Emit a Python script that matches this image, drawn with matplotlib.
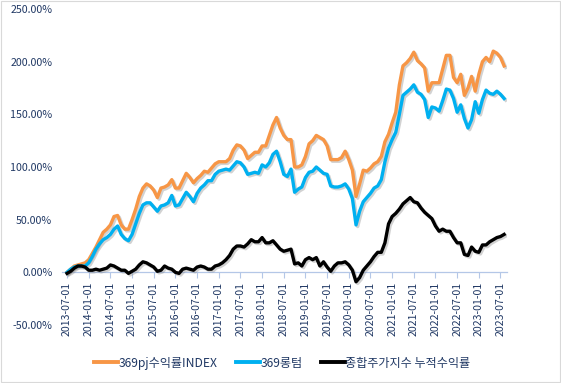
import numpy as np
import matplotlib
matplotlib.use("Agg")
import matplotlib.pyplot as plt
import matplotlib.patheffects as pe
from matplotlib.patches import Rectangle

plt.rcParams['font.family'] = ['Noto Sans CJK KR', 'DejaVu Sans']

# monthly cumulative returns (%), 2013-07 .. 2023-08
index_369pj = [
    0, 3, 6, 7, 8, 9, 12, 18, 24, 31, 38, 41, 45, 53, 54, 45, 41, 41, 50, 60,
    72, 80, 84, 82, 78, 71, 80, 81, 83, 88, 80, 80, 87, 94, 90, 85, 89, 92, 96, 95,
    99, 103, 105, 105, 105, 108, 116, 121, 120, 116, 108, 111, 114, 114, 120, 120, 130, 140, 147, 137,
    130, 126, 126, 100, 100, 102, 110, 122, 125, 130, 128, 126, 120, 107, 107, 107, 109, 115, 107, 97,
    72, 84, 97, 96, 99, 103, 105, 110, 124, 131, 142, 152, 178, 196, 199, 203, 209, 201, 198, 194,
    172, 180, 180, 180, 193, 206, 206, 185, 180, 188, 168, 175, 186, 172, 188, 200, 204, 200, 210, 208,
    204, 196,
]
longterm_369 = [
    0, 3, 5, 6, 6, 6, 9, 15, 22, 27, 31, 33, 36, 41, 44, 36, 32, 30, 36, 46,
    56, 64, 66, 66, 62, 58, 63, 64, 66, 73, 63, 64, 70, 76, 72, 67, 75, 80, 83, 87,
    87, 93, 96, 97, 98, 97, 101, 105, 104, 100, 93, 94, 95, 94, 102, 100, 104, 112, 115, 105,
    93, 91, 98, 76, 79, 81, 90, 95, 96, 100, 97, 94, 93, 82, 81, 81, 82, 84, 79, 70,
    45, 58, 67, 71, 75, 80, 82, 88, 105, 118, 126, 133, 150, 168, 171, 174, 178, 171, 169, 164,
    147, 157, 156, 153, 163, 174, 173, 165, 152, 159, 146, 137, 145, 162, 151, 164, 173, 170, 169, 172,
    169, 165,
]
kospi_cum = [
    -1, 1, 4, 6, 6, 5, 2, 2, 3, 2, 3, 4, 7, 6, 4, 2, 2, -1, 1, 3,
    7, 10, 9, 7, 5, 1, 2, 6, 4, 3, 0, -1, 3, 4, 3, 2, 5, 6, 5, 3,
    3, 6, 7, 9, 12, 16, 22, 25, 25, 24, 27, 31, 29, 29, 33, 28, 28, 30, 26, 22,
    20, 21, 22, 8, 9, 6, 12, 14, 12, 14, 6, 10, 5, 1, 6, 9, 9, 10, 7, 2,
    -9, -5, 2, 6, 10, 15, 19, 19, 28, 46, 53, 56, 60, 65, 68, 71, 67, 66, 61, 57,
    54, 51, 44, 39, 41, 39, 39, 33, 28, 28, 17, 16, 24, 20, 19, 26, 26, 29, 31, 33,
    34, 36,
]

tick_labels = [
    '2013-07-01', '2014-01-01', '2014-07-01', '2015-01-01', '2015-07-01',
    '2016-01-01', '2016-07-01', '2017-01-01', '2017-07-01', '2018-01-01',
    '2018-07-01', '2019-01-01', '2019-07-01', '2020-01-01', '2020-07-01',
    '2021-01-01', '2021-07-01', '2022-01-01', '2022-07-01', '2023-01-01',
    '2023-07-01',
]
series_names = ['369pj수익률INDEX', '369롱텀', '종합주가지수 누적수익률']
series_colors = ['#F79646', '#00B0F0', '#000000']

label_color = '#203864'
axis_color = '#B4C7E7'

fig = plt.figure(figsize=(5.61, 3.83), dpi=100)
fig.patches.append(Rectangle((0.002, 0.002), 0.996, 0.996, transform=fig.transFigure,
                             fill=False, edgecolor='#D9D9D9', linewidth=0.8))
ax = fig.add_axes([62 / 561, 1 - 325 / 383, 445 / 561, 316 / 383])

# spine position first: moving it resets the tick labels
for s in ['top', 'right', 'left']:
    ax.spines[s].set_visible(False)
ax.spines['bottom'].set_position(('data', 0))
ax.spines['bottom'].set_color(axis_color)
ax.spines['bottom'].set_linewidth(0.9)
ax.spines['bottom'].set_zorder(0)

x = np.arange(len(index_369pj))
shadow = [pe.SimpleLineShadow(offset=(1.2, -1.2), shadow_color='#808080', alpha=0.35),
          pe.Normal()]
for vals, name, col in zip([index_369pj, longterm_369, kospi_cum], series_names, series_colors):
    ax.plot(x, vals, color=col, linewidth=2.4, label=name,
            solid_joinstyle='round', path_effects=shadow)

ax.set_ylim(-50, 250)
ax.set_xlim(-1.4, 121.8)
ax.set_yticks(np.arange(-50, 251, 50))
ax.set_yticklabels(['%.2f%%' % v for v in np.arange(-50, 251, 50)])
ax.set_xticks(np.arange(0, len(tick_labels) * 6, 6))
ax.set_xticklabels(tick_labels)

ax.tick_params(axis='y', length=0, pad=7, labelsize=7.7, labelcolor=label_color)
ax.tick_params(axis='x', length=4, width=0.8, color=axis_color, pad=3,
               labelsize=7.6, labelcolor=label_color, labelrotation=90)

leg = fig.legend(loc='center', bbox_to_anchor=(0.503, 0.052), ncol=3, frameon=False,
                 fontsize=8.7, handlelength=2.0, handletextpad=0.05, columnspacing=1.5)
for t in leg.get_texts():
    t.set_color(label_color)
for h in leg.get_lines():
    h.set_path_effects([])
    h.set_linewidth(2.8)

fig.savefig('out.png', dpi=100)
